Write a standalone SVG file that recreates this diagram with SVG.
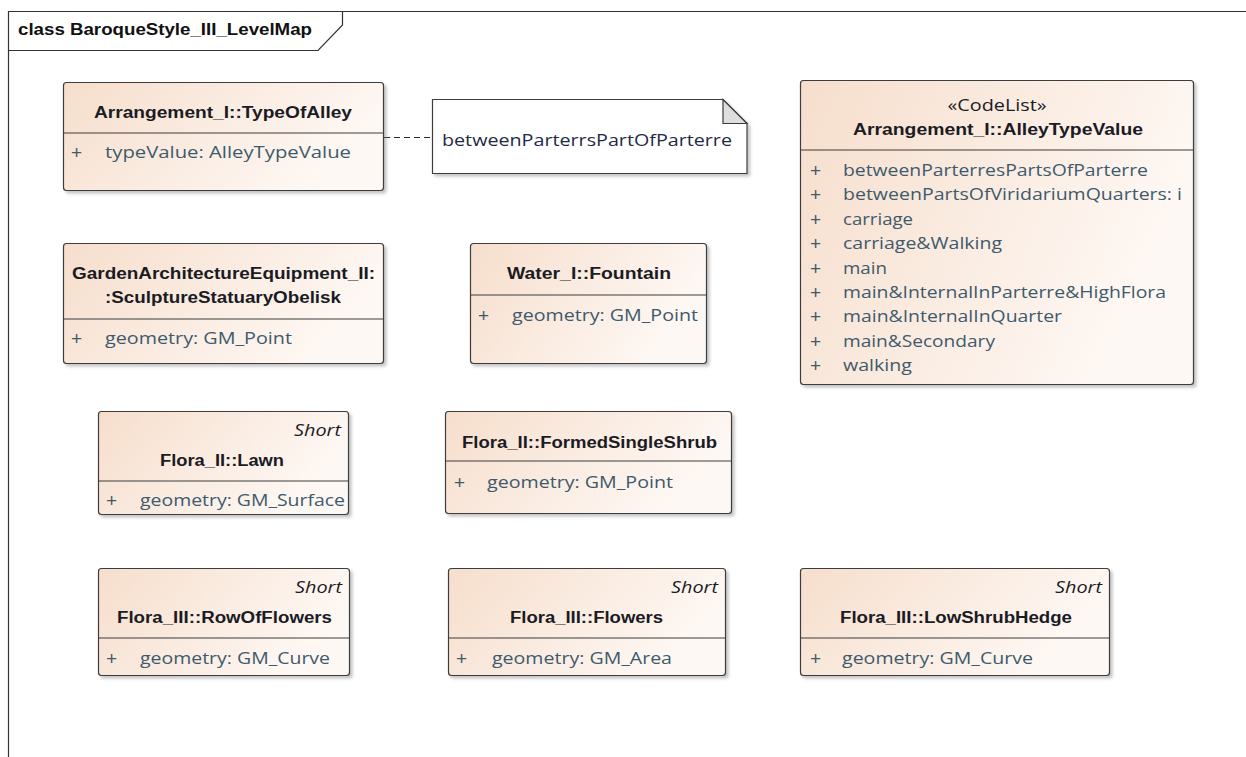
<svg xmlns="http://www.w3.org/2000/svg" width="1246" height="757" viewBox="0 0 1246 757">
  <defs>
    <linearGradient id="classFill" x1="0" y1="0" x2="1" y2="0.35">
      <stop offset="0" stop-color="#F6DECC"/>
      <stop offset="1" stop-color="#FEF8F4"/>
    </linearGradient>
    <filter id="shadow" x="-5%" y="-5%" width="115%" height="120%">
      <feDropShadow dx="2.5" dy="2.5" stdDeviation="1.5" flood-color="#7a7a7a" flood-opacity="0.45"/>
    </filter>
  </defs>
  <style>
    .box { fill: url(#classFill); stroke: #3c3c3c; stroke-width: 1.2; filter: url(#shadow); }
    .note { fill: #ffffff; stroke: #3c3c3c; stroke-width: 1.2; filter: url(#shadow); }
    .fold { fill: #dedede; stroke: #3c3c3c; stroke-width: 1.2; }
    .div { stroke: #3c3c3c; stroke-width: 1.2; }
    .frame { fill: none; stroke: #333333; stroke-width: 1.2; }
    .title { font-family: "Liberation Sans", Arial, sans-serif; font-weight: bold; font-size: 16px; fill: #1b1b24; text-anchor: middle; }
    .stereo { font-family: "Open Sans", "Liberation Sans", sans-serif; font-size: 16px; fill: #1b1b24; text-anchor: middle; }
    .short { font-family: "Open Sans", "Liberation Sans", sans-serif; font-style: italic; font-size: 17px; fill: #1b1b24; text-anchor: end; }
    .attr { font-family: "Open Sans", "Liberation Sans", sans-serif; font-size: 16px; fill: #3e5a6c; }
    .plus { font-family: "Liberation Sans", Arial, sans-serif; font-size: 19px; fill: #3e5a6c; }
    .notetext { font-family: "Open Sans", "Liberation Sans", sans-serif; font-size: 16px; fill: #1f2a44; }
    .frametitle { font-family: "Liberation Sans", Arial, sans-serif; font-weight: bold; font-size: 16px; fill: #111111; }
    .conn { stroke: #2b2b2b; stroke-width: 1.2; stroke-dasharray: 6 4; fill: none; }
  </style>

  <rect width="1246" height="757" fill="#ffffff"/>

  <!-- diagram frame -->
  <g id="frame">
    <path class="frame" d="M8.5,757 V11.5 H1246"/>
    <path class="frame" d="M342.5,11.5 V25 L318,50.5 H8.5"/>
    <text class="frametitle" x="18" y="35" textLength="294" lengthAdjust="spacingAndGlyphs">class BaroqueStyle_III_LevelMap</text>
  </g>

  <!-- connectors -->
  <g id="connectors">
    <line class="conn" x1="384" y1="137.5" x2="432" y2="137.5"/>
  </g>

  <g id="TypeOfAlley">
    <rect class="box" x="63.5" y="82.5" width="320" height="108" rx="3"/>
    <line class="div" x1="63.5" y1="133" x2="383.5" y2="133"/>
    <text class="title" x="223" y="118" textLength="258" lengthAdjust="spacingAndGlyphs">Arrangement_I::TypeOfAlley</text>
    <text class="plus" x="71" y="159">+</text>
    <text class="attr" x="105" y="158" textLength="246" lengthAdjust="spacingAndGlyphs">typeValue: AlleyTypeValue</text>
  </g>

  <g id="NoteAlley">
    <path class="note" d="M432.5,99.5 H723 L747,123.5 V173.5 H432.5 Z"/>
    <path class="fold" d="M723,99.5 V123.5 H747 Z"/>
    <text class="notetext" x="442" y="146" textLength="290" lengthAdjust="spacingAndGlyphs">betweenParterrsPartOfParterre</text>
  </g>

  <g id="AlleyTypeValue">
    <rect class="box" x="800.5" y="80.5" width="393" height="304" rx="3"/>
    <line class="div" x1="800.5" y1="150" x2="1193.5" y2="150"/>
    <text class="stereo" x="997" y="111" textLength="99" lengthAdjust="spacingAndGlyphs">«CodeList»</text>
    <text class="title" x="998" y="135" textLength="290" lengthAdjust="spacingAndGlyphs">Arrangement_I::AlleyTypeValue</text>
    <g class="plus">
      <text x="810" y="177">+</text>
      <text x="810" y="201.4">+</text>
      <text x="810" y="225.8">+</text>
      <text x="810" y="250.2">+</text>
      <text x="810" y="274.6">+</text>
      <text x="810" y="299">+</text>
      <text x="810" y="323.4">+</text>
      <text x="810" y="347.8">+</text>
      <text x="810" y="372.2">+</text>
    </g>
    <g class="attr">
      <text x="843" y="176" textLength="305" lengthAdjust="spacingAndGlyphs">betweenParterresPartsOfParterre</text>
      <text x="843" y="200.4" textLength="339" lengthAdjust="spacingAndGlyphs">betweenPartsOfViridariumQuarters: i</text>
      <text x="843" y="224.8" textLength="70" lengthAdjust="spacingAndGlyphs">carriage</text>
      <text x="843" y="249.2" textLength="159" lengthAdjust="spacingAndGlyphs">carriage&amp;Walking</text>
      <text x="843" y="273.6" textLength="44" lengthAdjust="spacingAndGlyphs">main</text>
      <text x="843" y="298" textLength="323" lengthAdjust="spacingAndGlyphs">main&amp;InternalInParterre&amp;HighFlora</text>
      <text x="843" y="322.4" textLength="219" lengthAdjust="spacingAndGlyphs">main&amp;InternalInQuarter</text>
      <text x="843" y="346.8" textLength="152" lengthAdjust="spacingAndGlyphs">main&amp;Secondary</text>
      <text x="843" y="371.2" textLength="69" lengthAdjust="spacingAndGlyphs">walking</text>
    </g>
  </g>

  <g id="SculptureStatuaryObelisk">
    <rect class="box" x="63.5" y="243.5" width="320" height="120" rx="3"/>
    <line class="div" x1="63.5" y1="319" x2="383.5" y2="319"/>
    <text class="title" x="223.5" y="279" textLength="303" lengthAdjust="spacingAndGlyphs">GardenArchitectureEquipment_II:</text>
    <text class="title" x="223" y="303" textLength="236" lengthAdjust="spacingAndGlyphs">:SculptureStatuaryObelisk</text>
    <text class="plus" x="71" y="345">+</text>
    <text class="attr" x="105" y="344" textLength="187" lengthAdjust="spacingAndGlyphs">geometry: GM_Point</text>
  </g>

  <g id="Fountain">
    <rect class="box" x="470.5" y="243.5" width="236" height="120" rx="3"/>
    <line class="div" x1="470.5" y1="295" x2="706.5" y2="295"/>
    <text class="title" x="589" y="279" textLength="164" lengthAdjust="spacingAndGlyphs">Water_I::Fountain</text>
    <text class="plus" x="478" y="322">+</text>
    <text class="attr" x="512" y="321" textLength="186" lengthAdjust="spacingAndGlyphs">geometry: GM_Point</text>
  </g>

  <g id="Lawn">
    <rect class="box" x="98.5" y="411.5" width="250" height="103" rx="3"/>
    <line class="div" x1="98.5" y1="481" x2="348.5" y2="481"/>
    <text class="short" x="341" y="436" textLength="47" lengthAdjust="spacingAndGlyphs">Short</text>
    <text class="title" x="222" y="466" textLength="124" lengthAdjust="spacingAndGlyphs">Flora_II::Lawn</text>
    <text class="plus" x="106" y="507">+</text>
    <text class="attr" x="140" y="506" textLength="205" lengthAdjust="spacingAndGlyphs">geometry: GM_Surface</text>
  </g>

  <g id="FormedSingleShrub">
    <rect class="box" x="445.5" y="411.5" width="286" height="102" rx="3"/>
    <line class="div" x1="445.5" y1="461" x2="731.5" y2="461"/>
    <text class="title" x="589.5" y="448" textLength="255" lengthAdjust="spacingAndGlyphs">Flora_II::FormedSingleShrub</text>
    <text class="plus" x="454" y="489">+</text>
    <text class="attr" x="487" y="488" textLength="186" lengthAdjust="spacingAndGlyphs">geometry: GM_Point</text>
  </g>

  <g id="RowOfFlowers">
    <rect class="box" x="98.5" y="568.5" width="251" height="107" rx="3"/>
    <line class="div" x1="98.5" y1="638" x2="349.5" y2="638"/>
    <text class="short" x="342" y="593" textLength="47" lengthAdjust="spacingAndGlyphs">Short</text>
    <text class="title" x="224.5" y="623" textLength="215" lengthAdjust="spacingAndGlyphs">Flora_III::RowOfFlowers</text>
    <text class="plus" x="106" y="665">+</text>
    <text class="attr" x="140" y="664" textLength="190" lengthAdjust="spacingAndGlyphs">geometry: GM_Curve</text>
  </g>

  <g id="Flowers">
    <rect class="box" x="448.5" y="568.5" width="277" height="107" rx="3"/>
    <line class="div" x1="448.5" y1="638" x2="725.5" y2="638"/>
    <text class="short" x="718" y="593" textLength="47" lengthAdjust="spacingAndGlyphs">Short</text>
    <text class="title" x="586.5" y="623" textLength="153" lengthAdjust="spacingAndGlyphs">Flora_III::Flowers</text>
    <text class="plus" x="456" y="665">+</text>
    <text class="attr" x="492" y="664" textLength="180" lengthAdjust="spacingAndGlyphs">geometry: GM_Area</text>
  </g>

  <g id="LowShrubHedge">
    <rect class="box" x="800.5" y="568.5" width="309" height="107" rx="3"/>
    <line class="div" x1="800.5" y1="638" x2="1109.5" y2="638"/>
    <text class="short" x="1102" y="593" textLength="47" lengthAdjust="spacingAndGlyphs">Short</text>
    <text class="title" x="956" y="623" textLength="232" lengthAdjust="spacingAndGlyphs">Flora_III::LowShrubHedge</text>
    <text class="plus" x="810" y="665">+</text>
    <text class="attr" x="842" y="664" textLength="191" lengthAdjust="spacingAndGlyphs">geometry: GM_Curve</text>
  </g>
</svg>
